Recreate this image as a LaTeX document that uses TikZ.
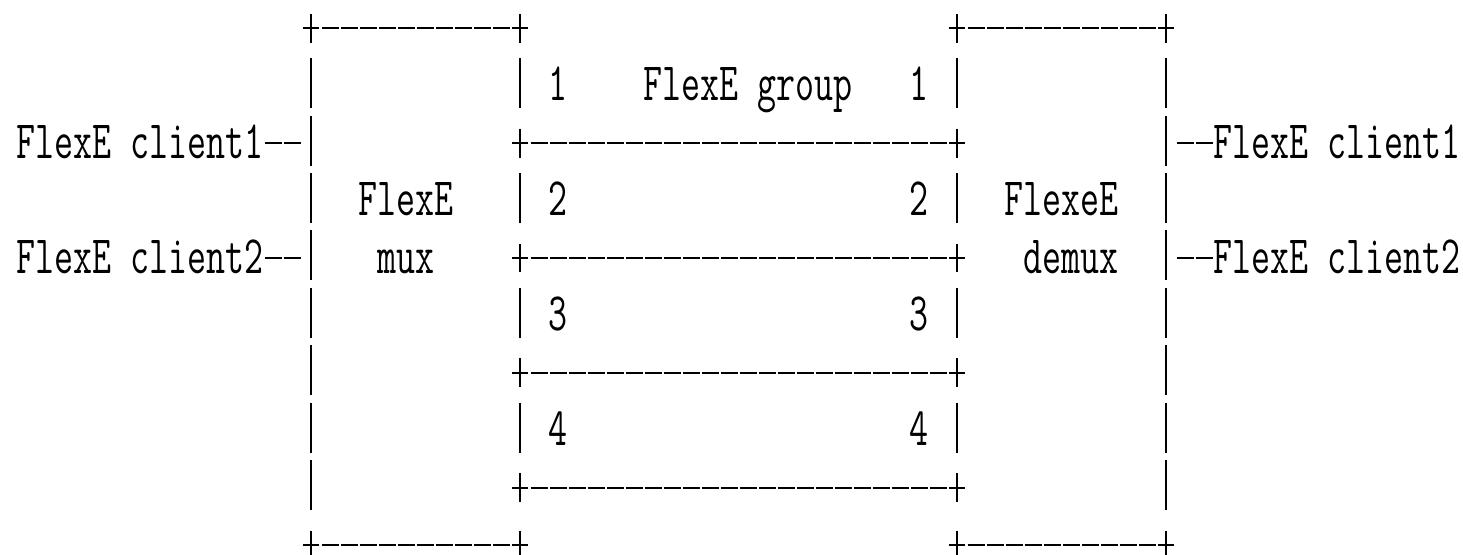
\documentclass[tikz,border=0pt]{standalone}
\usepackage{graphicx}
\newlength\cwid
\newlength\chgt
\newcommand\asc{\ttfamily\fontsize{36}{40}\selectfont}
\tikzset{ln/.style={line width=2pt}, lbl/.style={inner sep=0pt, anchor=base west}}
\newcommand\cx[1]{25.5+19*(#1)}
\newcommand\ly[1]{28.3+57.4*(#1)}
\newcommand\plusat[2]{\draw[ln] ({\cx{#1}-8},{\ly{#2}}) -- ++(16,0) ({\cx{#1}},{\ly{#2}-14.4}) -- ++(0,28.8);}
\newcommand\dashat[2]{\draw[ln] ({16+19*(#1)+1.5},{\ly{#2}}) -- ++(17,0);}
\newcommand\barat[2]{\draw[ln] ({\cx{#1}},{\ly{#2}-27.5}) -- ++(0,50);}
\newcommand\hseg[3]{%
  \plusat{#2}{#1}\plusat{#3}{#1}%
  \pgfmathtruncatemacro\hsA{#2+1}\pgfmathtruncatemacro\hsB{#3-1}%
  \foreach \cc in {\hsA,...,\hsB} {\dashat{\cc}{#1}}}
\newcommand\txt[4]{\node[lbl] (#1) at ({16+19*(#2)},{43.5+57.4*(#3)}) {\scalebox{\xs}[\ys]{\asc #4}};}
\begin{document}
\settowidth\cwid{\asc 0}\settoheight\chgt{\asc E}%
\pgfmathsetmacro\xs{19/\cwid}%
\pgfmathsetmacro\ys{33/\chgt}%
\begin{tikzpicture}[x=1pt,y=-1pt]
\fill[white] (0,0) rectangle (1463,554);
\useasboundingbox (0,0) rectangle (1463,554);
% outer boxes top and bottom
\hseg{0}{15}{26}\hseg{0}{49}{60}
\hseg{9}{15}{26}\hseg{9}{49}{60}
% group separators
\foreach \r in {2,4,6,8}{\hseg{\r}{26}{49}}
% vertical bars
\foreach \r in {1,...,8}{\barat{15}{\r}\barat{60}{\r}}
\foreach \r in {1,3,5,7}{\barat{26}{\r}\barat{49}{\r}}
% client connectors
\foreach \r in {2,4}{\dashat{13}{\r}\dashat{14}{\r}\dashat{61}{\r}\dashat{62}{\r}}
% texts
\txt{c1l}{0}{2}{FlexE client1}
\txt{c2l}{0}{4}{FlexE client2}
\txt{c1r}{63}{2}{FlexE client1}
\txt{c2r}{63}{4}{FlexE client2}
\txt{muxa}{18}{3}{FlexE}
\txt{muxb}{19}{4}{mux}
\txt{dmxa}{52}{3}{FlexeE}
\txt{dmxb}{53}{4}{demux}
\txt{grp}{33}{1}{FlexE group}
\foreach \n/\r in {1/1,2/3,3/5,4/7}{\txt{l\n}{28}{\r}{\n}\txt{r\n}{47}{\r}{\n}}
\end{tikzpicture}
\end{document}
